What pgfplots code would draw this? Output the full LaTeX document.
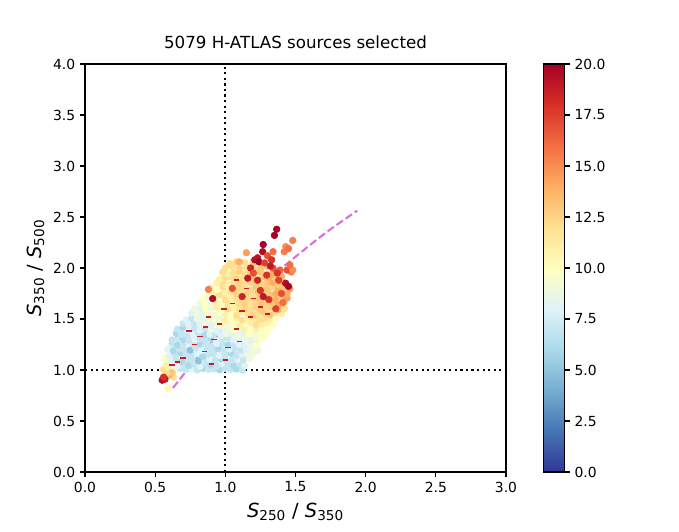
\documentclass[border=0pt]{standalone}
\usepackage{fontspec}
\setmainfont{DejaVu Sans}
\usepackage{pgfplots}
\usepackage{pgfplotstable}
\pgfplotsset{compat=1.18}

\definecolor{trackcol}{RGB}{218,112,214}
\definecolor{streak}{RGB}{195,30,40}

\pgfplotsset{
  colormap={RdYlBur}{
    rgb255(0)=(49,54,149) rgb255(2)=(69,117,180) rgb255(4)=(116,173,209)
    rgb255(6)=(171,217,233) rgb255(8)=(224,243,248) rgb255(10)=(255,255,191)
    rgb255(12)=(254,224,144) rgb255(14)=(253,174,97) rgb255(16)=(244,109,67)
    rgb255(18)=(215,48,39) rgb255(20)=(165,0,38)}
}

% colour ratios of the selected sources: x = S250/S350, y = S350/S500, c = colour value
\pgfplotstableread{
x y c
0.56 1.005 12
0.60 1.010 11
0.64 1.000 9
0.68 1.015 7
0.72 1.005 7
0.76 1.010 8
0.80 1.000 7
0.84 1.015 6
0.88 1.005 7
0.92 1.010 7
0.96 1.000 6
1.00 1.015 7
1.04 1.005 7
1.08 1.010 6
1.12 1.000 7
0.58 1.050 11
0.62 1.060 9
0.66 1.040 8
0.70 1.065 7
0.74 1.045 6
0.78 1.055 7
0.82 1.035 8
0.86 1.060 7
0.90 1.050 6
0.94 1.040 7
0.98 1.065 8
1.02 1.055 7
1.06 1.045 6
1.10 1.060 7
1.14 1.040 8
0.57 1.115 10
0.61 1.095 8
0.65 1.105 7
0.69 1.085 6
0.73 1.110 7
0.77 1.100 7
0.81 1.090 5
0.85 1.115 7
0.89 1.105 8
0.93 1.095 7
0.97 1.110 6
1.01 1.090 7
1.05 1.100 7
1.09 1.105 8
1.13 1.100 7
1.17 1.110 9
0.60 1.140 8
0.64 1.155 7
0.68 1.165 6
0.72 1.145 7
0.76 1.150 7
0.80 1.160 8
0.84 1.135 6
0.88 1.155 7
0.92 1.160 7
0.96 1.140 8
1.00 1.150 7
1.04 1.165 6
1.08 1.145 7
1.12 1.155 8
1.16 1.150 9
1.195 1.160 9
0.59 1.205 8
0.63 1.190 6
0.67 1.210 7
0.71 1.200 7
0.75 1.195 5
0.79 1.215 7
0.83 1.190 8
0.87 1.205 7
0.91 1.200 7
0.95 1.210 6
0.99 1.185 7
1.03 1.205 8
1.07 1.210 7
1.11 1.195 7
1.15 1.200 8
1.19 1.210 9
1.23 1.190 9
0.62 1.260 7
0.66 1.245 6
0.70 1.250 7
0.74 1.265 8
0.78 1.240 7
0.82 1.255 6
0.86 1.250 7
0.90 1.235 7
0.94 1.260 8
0.98 1.255 7
1.02 1.245 6
1.06 1.260 7
1.10 1.250 8
1.14 1.240 8
1.18 1.255 9
1.22 1.250 10
0.62 1.295 7
0.66 1.310 7
0.70 1.300 6
0.74 1.290 7
0.78 1.315 8
0.82 1.305 7
0.86 1.295 7
0.90 1.310 6
0.94 1.285 8
0.98 1.300 7
1.02 1.310 7
1.06 1.295 8
1.10 1.305 8
1.14 1.315 9
1.18 1.290 8
1.22 1.300 9
1.26 1.305 10
0.65 1.360 6
0.69 1.350 7
0.73 1.340 7
0.77 1.355 8
0.81 1.365 7
0.85 1.345 6
0.89 1.350 8
0.93 1.360 7
0.97 1.340 8
1.01 1.355 9
1.05 1.350 8
1.09 1.335 9
1.13 1.360 8
1.17 1.355 10
1.21 1.345 9
1.25 1.360 10
1.29 1.350 10
0.66 1.400 7
0.70 1.415 6
0.74 1.395 8
0.78 1.410 7
0.82 1.390 8
0.86 1.405 7
0.90 1.400 9
0.94 1.385 8
0.98 1.410 8
1.02 1.405 9
1.06 1.395 10
1.10 1.415 9
1.14 1.400 11
1.18 1.390 10
1.22 1.405 11
1.26 1.410 10
1.30 1.395 10
0.70 1.455 7
0.74 1.440 8
0.78 1.460 7
0.82 1.450 8
0.86 1.465 9
0.90 1.445 8
0.94 1.455 9
0.98 1.440 10
1.02 1.450 9
1.06 1.460 10
1.10 1.435 11
1.14 1.455 10
1.18 1.460 11
1.22 1.445 12
1.26 1.450 11
1.30 1.465 11
1.34 1.440 10
0.72 1.490 8
0.76 1.505 7
0.80 1.500 9
0.84 1.515 8
0.88 1.495 9
0.92 1.510 10
0.96 1.500 9
1.00 1.485 11
1.04 1.505 10
1.08 1.510 11
1.12 1.490 12
1.16 1.500 11
1.20 1.515 12
1.24 1.495 12
1.28 1.505 12
1.32 1.500 11
1.36 1.510 10
0.76 1.560 8
0.80 1.545 9
0.84 1.555 8
0.88 1.550 10
0.92 1.540 9
0.96 1.565 10
1.00 1.550 11
1.04 1.555 10
1.08 1.535 12
1.12 1.560 11
1.16 1.550 12
1.20 1.545 12.5
1.24 1.560 12
1.28 1.555 12.5
1.32 1.540 13
1.36 1.565 12
1.40 1.550 11
0.78 1.600 9
0.82 1.610 8
0.86 1.590 10
0.90 1.605 9
0.94 1.615 11
0.98 1.595 10
1.02 1.600 12
1.06 1.610 11
1.10 1.590 12
1.14 1.605 12.5
1.18 1.600 12
1.22 1.615 12.5
1.26 1.585 13
1.30 1.605 12.5
1.34 1.610 13
1.38 1.595 14
1.42 1.600 12
0.82 1.655 9
0.86 1.640 10
0.90 1.660 9
0.94 1.650 11
0.98 1.645 10
1.02 1.665 12
1.06 1.655 11
1.10 1.640 12
1.14 1.650 12.5
1.18 1.660 12
1.22 1.635 12.5
1.26 1.655 13
1.30 1.650 12.5
1.34 1.660 13
1.38 1.645 14
1.42 1.665 12.5
0.84 1.695 10
0.88 1.710 9
0.92 1.700 11
0.96 1.715 10
1.00 1.690 12
1.04 1.705 11
1.08 1.700 12
1.12 1.685 12.5
1.16 1.710 12
1.20 1.705 12.5
1.24 1.695 13
1.28 1.710 12.5
1.32 1.700 13
1.36 1.690 14
1.40 1.715 13
1.44 1.705 14.5
0.88 1.760 10
0.92 1.750 11
0.96 1.740 12
1.00 1.755 11
1.04 1.765 12
1.08 1.745 12.5
1.12 1.760 12
1.16 1.750 12.5
1.20 1.735 12
1.24 1.755 13
1.28 1.760 12.5
1.32 1.740 13
1.36 1.750 14
1.40 1.765 13
1.44 1.745 14
0.90 1.800 11
0.94 1.790 10
0.98 1.815 12
1.02 1.805 11
1.06 1.795 12
1.10 1.810 12.5
1.14 1.800 12
1.18 1.785 12.5
1.22 1.810 13
1.26 1.805 12.5
1.30 1.790 13
1.34 1.815 12.5
1.38 1.800 14
1.42 1.805 13
1.46 1.795 14.5
0.94 1.855 11
0.98 1.865 12
1.02 1.840 11
1.06 1.850 12
1.10 1.860 12.5
1.14 1.845 12
1.18 1.855 12.5
1.22 1.865 13
1.26 1.840 12.5
1.30 1.850 13
1.34 1.860 14
1.38 1.835 13
1.42 1.855 14
0.96 1.890 11
1.00 1.905 12
1.04 1.915 12
1.08 1.900 12.5
1.12 1.895 12
1.16 1.910 12.5
1.20 1.900 13
1.24 1.885 12.5
1.28 1.910 13
1.32 1.905 14
1.36 1.895 13
1.40 1.915 14
0.98 1.960 12
1.02 1.945 11
1.06 1.950 12
1.10 1.965 12.5
1.14 1.940 12
1.18 1.955 13
1.22 1.960 12.5
1.26 1.950 13
1.30 1.935 12.5
1.34 1.955 14
1.38 1.960 13
1.00 2.000 12
1.05 2.010 12
1.10 1.995 12.5
1.15 2.005 12
1.20 2.015 12.5
1.25 1.995 13
1.30 2.010 13
1.03 2.045 12
1.08 2.060 12.5
1.14 2.050 12
1.20 2.065 13
0.59 0.820 10.5
0.63 0.930 12
0.60 0.950 14
0.62 0.975 13
0.58 0.960 12
}\bodydata

% the reddest sources, drawn last
\pgfplotstableread{
x y c
0.55 0.900 19.5
0.57 0.910 19
0.56 0.930 18
0.88 1.790 15.5
0.91 1.700 19.5
1.10 2.060 14
1.15 2.150 14.5
1.18 2.000 18.5
1.21 2.080 19.5
1.23 2.100 19
1.24 2.060 20
1.27 2.230 20
1.266 2.160 19.5
1.30 2.120 17
1.33 2.080 18
1.34 2.160 16
1.35 2.320 20
1.366 2.380 20
1.34 2.000 17
1.39 1.980 16.5
1.43 2.210 15
1.42 2.160 15.5
1.45 2.190 16
1.48 2.270 15.5
1.47 1.960 15.5
1.44 1.980 17
1.43 1.850 19.5
1.45 1.820 20
1.295 1.930 18
1.23 1.880 18.5
1.38 1.880 17.5
1.25 1.780 18
1.31 1.690 18
1.27 1.720 19
1.40 1.750 17
1.36 1.600 17.5
1.20 1.950 17
1.16 1.900 19
1.32 2.020 19
1.28 2.050 17.5
1.37 1.950 18
1.05 1.800 17
1.12 1.720 18.5
1.41 1.660 16
1.48 1.980 15
1.46 2.030 16
}\reddata

\begin{document}
\begin{tikzpicture}
\useasboundingbox (-61.2pt,-42.48pt) rectangle (427.68pt,339.84pt);
\begin{axis}[
  at={(0,0)}, anchor=south west,
  scale only axis, width=303.12pt, height=293.76pt,
  xmin=0, xmax=3, ymin=0, ymax=4,
  xtick={0,0.5,...,3}, ytick={0,0.5,...,4},
  /pgf/number format/assume math mode=true,
  xticklabel style={/pgf/number format/.cd, fixed, fixed zerofill, precision=1},
  yticklabel style={/pgf/number format/.cd, fixed, fixed zerofill, precision=1},
  tick label style={font=\fontsize{10}{12}\selectfont},
  tick pos=left, tick align=outside, major tick length=3.5pt,
  tick style={black, line width=0.8pt},
  axis line style={line width=0.8pt},
  title={5079 H-ATLAS sources selected},
  title style={font=\fontsize{12}{14}\selectfont, anchor=base, yshift=5pt},
  xlabel={\textit{S}\textsubscript{250} / \textit{S}\textsubscript{350}},
  ylabel={\textit{S}\textsubscript{350} / \textit{S}\textsubscript{500}},
  xlabel style={at={(axis description cs:0.5,-0.1103)}, anchor=base, font=\fontsize{14}{16}\selectfont},
  ylabel style={at={(axis description cs:-0.1045,0.5)}, anchor=base, font=\fontsize{14}{16}\selectfont},
  colormap name=RdYlBur,
  point meta min=0, point meta max=20,
  scatter/use mapped color={draw=mapped color, fill=mapped color},
  colorbar,
  colorbar style={
    at={(parent axis.north east)}, anchor=north west, xshift=18.72pt,
    scale only axis, width=15.12pt, height=293.76pt,
    ytick={0,2.5,...,20},
    /pgf/number format/assume math mode=true,
    yticklabel style={/pgf/number format/.cd, fixed, fixed zerofill, precision=1},
    tick label style={font=\fontsize{10}{12}\selectfont},
    ytick pos=right, yticklabel pos=right,
    tick align=outside, major tick length=3.5pt,
    tick style={black, line width=0.8pt},
    axis line style={line width=0.8pt},
  },
]
\addplot[scatter, only marks, mark=*, mark size=2.4pt, scatter src=explicit]
  table[x=x, y=y, meta=c] {\bodydata};

% red sources half hidden inside the crowd
\addplot[only marks, mark=-, mark size=2pt, mark options={line width=1.1pt}, color=streak]
  coordinates {
  (0.70,1.12) (0.78,1.25) (0.66,1.08) (0.85,1.18) (0.92,1.30) (0.74,1.38)
  (1.02,1.22) (0.96,1.45) (0.88,1.52) (1.08,1.40) (1.12,1.58) (1.05,1.65)
  (1.18,1.52) (0.99,1.60) (1.20,1.70) (1.15,1.80) (0.82,1.33) (0.62,1.05)
  (1.00,1.10) (0.90,1.06) (1.10,1.28) (0.86,1.42) (1.25,1.62) (1.30,1.55)
  (1.08,1.88)};

\addplot[scatter, only marks, mark=*, mark size=2.4pt, scatter src=explicit]
  table[x=x, y=y, meta=c] {\reddata};

% colour cuts
\addplot[black, line width=1.5pt, dash pattern=on 1.5pt off 2.475pt] coordinates {(1,0) (1,4)};
\addplot[black, line width=1.5pt, dash pattern=on 1.5pt off 2.475pt] coordinates {(0,1) (3,1)};

% redshift track
\addplot[trackcol, line width=1.5pt, dash pattern=on 5.55pt off 2.4pt, smooth]
  coordinates {(0.627,0.824) (0.80,1.12) (1.00,1.42) (1.155,1.667) (1.30,1.88) (1.50,2.11) (1.72,2.35) (1.94,2.562)};
\end{axis}
\end{tikzpicture}
\end{document}
